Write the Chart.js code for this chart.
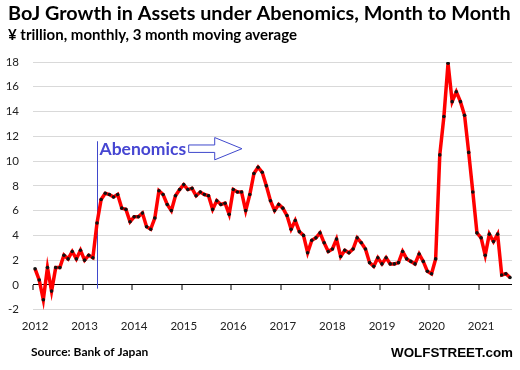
<!DOCTYPE html>
<html>
<head>
<meta charset="utf-8">
<script src="https://cdn.jsdelivr.net/npm/chart.js@4/dist/chart.umd.min.js"></script>
<style>
html,body{margin:0;padding:0;background:#fff;}
#wrap{width:520px;height:370px;position:relative;}
</style>
</head>
<body>
<div id="wrap"><canvas id="c" width="520" height="370"></canvas></div>
<script>
// ---- data ----
const years = [2012, 2013, 2014, 2015, 2016, 2017, 2018, 2019, 2020, 2021];
const monthNames = ['01','02','03','04','05','06','07','08','09','10','11','12'];
// monthly categories Jan 2012 .. Aug 2021
const categories = [];
years.forEach(y => monthNames.forEach(m => categories.push(y + '-' + m)));
categories.length = 116;

const assetGrowth = [
  1.3, 0.4, -1.2, 1.4, -0.5, 1.4, 1.4, 2.4, 2.1, 2.7, 2.1, 2.8,
  2.0, 2.4, 2.2, 5.0, 6.9, 7.4, 7.3, 7.1, 7.3, 6.2, 6.1, 5.1,
  5.5, 5.5, 5.8, 4.7, 4.5, 5.4, 7.6, 7.3, 6.5, 6.0, 7.2, 7.7,
  8.1, 7.7, 7.8, 7.2, 7.5, 7.3, 7.2, 6.1, 6.8, 6.5, 6.6, 5.7,
  7.7, 7.5, 7.5, 6.0, 7.3, 9.0, 9.5, 9.1, 8.0, 6.8, 6.0, 6.5,
  6.2, 5.6, 4.5, 5.2, 4.3, 4.0, 2.6, 3.6, 3.8, 4.2, 3.4, 2.7,
  2.9, 3.7, 2.3, 2.8, 2.6, 2.9, 3.8, 3.4, 2.9, 1.8, 1.5, 2.2,
  1.7, 2.2, 1.7, 1.7, 1.8, 2.7, 2.1, 1.9, 1.7, 2.5, 1.9, 1.1,
  0.9, 2.1, 10.5, 13.6, 17.9, 14.8, 15.6, 14.8, 13.7, 10.7, 7.5, 4.2,
  3.8, 2.4, 4.1, 3.5, 4.1, 0.8, 0.9, 0.6
];

const yMin = -2, yMax = 18, yStep = 2;

// annotation: start of Abenomics (Apr 2013), expressed in data units
const abenomicsIndex = 15;
const abenomicsLineTop = 11.6;
const abenomicsLineBottom = -0.3;
const abenomicsLabel = 'Abenomics';
const labelValue = 10.5;         // baseline value of label
const arrowX = [37.2, 43.5, 50.1];   // body start, head base, tip (category index)
const arrowY = [11.0, 11.3, 10.7, 11.9, 10.1]; // centre, body top, body bottom, head top, head bottom

const titleText = 'BoJ Growth in Assets under Abenomics, Month to Month';
const subtitleText = '\u00A5 trillion, monthly, 3 month moving average';
const sourceText = 'Source: Bank of Japan';
const brandText = 'WOLFSTREET.com';

const annotationPlugin = {
  id: 'annot',
  beforeDatasetsDraw(chart) {
    const ctx = chart.ctx, xs = chart.scales.x, ys = chart.scales.y;
    ctx.save();
    const lx = Math.round(xs.getPixelForValue(abenomicsIndex)) + 0.5;
    ctx.strokeStyle = '#3f48cc';
    ctx.lineWidth = 1;
    ctx.beginPath();
    ctx.moveTo(lx, ys.getPixelForValue(abenomicsLineTop));
    ctx.lineTo(lx, ys.getPixelForValue(abenomicsLineBottom));
    ctx.stroke();
    ctx.restore();
  },
  afterDraw(chart) {
    const ctx = chart.ctx, xs = chart.scales.x, ys = chart.scales.y;
    ctx.save();
    // label
    ctx.fillStyle = '#4646d2';
    ctx.font = 'bold 17.5px Lato';
    ctx.textBaseline = 'alphabetic';
    ctx.textAlign = 'left';
    ctx.fillText(abenomicsLabel, xs.getPixelForValue(abenomicsIndex) + 2.5, ys.getPixelForValue(labelValue));
    // hollow arrow
    const px = arrowX.map(v => xs.getPixelForValue(v));
    const py = arrowY.map(v => ys.getPixelForValue(v));
    ctx.beginPath();
    ctx.moveTo(px[0], py[1]);
    ctx.lineTo(px[1], py[1]);
    ctx.lineTo(px[1], py[3]);
    ctx.lineTo(px[2], py[0]);
    ctx.lineTo(px[1], py[4]);
    ctx.lineTo(px[1], py[2]);
    ctx.lineTo(px[0], py[2]);
    ctx.closePath();
    ctx.fillStyle = '#ffffff';
    ctx.fill();
    ctx.strokeStyle = '#3f48cc';
    ctx.lineWidth = 1;
    ctx.stroke();

    // titles and footer
    ctx.fillStyle = '#000';
    ctx.font = 'bold 19.8px Lato';
    ctx.fillText(titleText, 8, 19.5);
    ctx.font = 'bold 15px Lato';
    ctx.fillText(subtitleText, 8, 40);
    ctx.font = 'bold 12px Lato';
    ctx.fillText(sourceText, 31, 356);
    ctx.font = 'bold 13.4px "Liberation Sans"';
    ctx.textAlign = 'right';
    ctx.fillText(brandText, 513, 357);
    ctx.restore();
  }
};

function draw() {
  new Chart(document.getElementById('c'), {
    type: 'line',
    data: {
      labels: categories,
      datasets: [{
        data: assetGrowth,
        xAxisID: 'x',
        yAxisID: 'y',
        borderColor: '#ff0000',
        borderWidth: 3.5,
        tension: 0,
        pointRadius: 1.8,
        pointBackgroundColor: '#111',
        pointBorderWidth: 0,
        pointHoverRadius: 0
      }]
    },
    options: {
      responsive: false,
      animation: false,
      devicePixelRatio: 1,
      events: [],
      layout: { padding: { top: 62, left: 6, right: 2, bottom: 26.5 } },
      plugins: { legend: { display: false }, tooltip: { enabled: false }, title: { display: false } },
      scales: {
        x: {
          type: 'category',
          position: { y: 0 },
          offset: true,
          grid: {
            offset: true,
            drawOnChartArea: false,
            drawTicks: true,
            tickLength: 5,
            tickColor: '#000',
            tickWidth: ctx => (ctx.index % 12 === 0 ? 1 : 0),
            lineWidth: 0
          },
          border: { display: true, color: '#000', width: 1 },
          ticks: { display: false, autoSkip: false }
        },
        x2: {
          type: 'category',
          position: 'bottom',
          offset: true,
          grid: { display: false, drawTicks: false },
          border: { display: false },
          ticks: {
            autoSkip: false,
            maxRotation: 0,
            minRotation: 0,
            padding: 10,
            color: '#222',
            font: { family: 'Lato', size: 11.5 },
            callback: (v, i) => (i % 12 === 0 ? categories[i].slice(0, 4) : '')
          }
        },
        y: {
          min: yMin,
          max: yMax,
          ticks: { stepSize: yStep, padding: 14, color: '#222', font: { family: 'Lato', size: 11.5 } },
          grid: { color: '#d9d9d9', drawTicks: false, lineWidth: 1 },
          border: { display: false },
          afterFit: s => { s.width = 27; }
        }
      }
    },
    plugins: [annotationPlugin]
  });
}

if (document.fonts && document.fonts.load) {
  Promise.all([
    document.fonts.load('bold 19px Lato'),
    document.fonts.load('11.5px Lato'),
    document.fonts.load('bold 14px "Liberation Sans"')
  ]).then(draw, draw);
} else {
  draw();
}
</script>
</body>
</html>
